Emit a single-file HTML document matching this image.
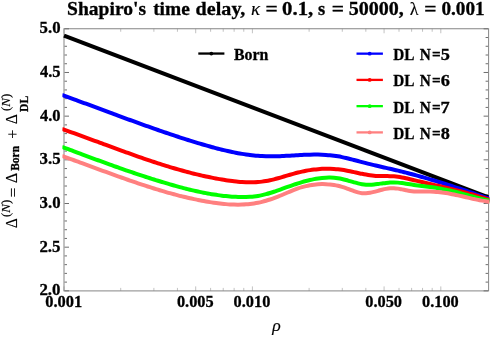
<!DOCTYPE html><html><head><meta charset="utf-8"><style>html,body{margin:0;padding:0;background:#fff}svg{display:block;will-change:transform}text{font-family:"Liberation Serif",serif;fill:#000}</style></head><body>
<svg width="491" height="338" viewBox="0 0 491 338">
<rect width="491" height="338" fill="#fff"/>
<defs><clipPath id="c"><rect x="62.40" y="28.75" width="427.00" height="262.15"/></clipPath></defs>
<g stroke="#858585" stroke-width="1" fill="none">
<rect x="64.00" y="28.75" width="424.60" height="262.15"/>
<path stroke="#6e6e6e" d="M64.50 290.85h4.50M488.10 290.85h-4.50M64.50 282.12h2.50M488.10 282.12h-2.50M64.50 273.38h2.50M488.10 273.38h-2.50M64.50 264.65h2.50M488.10 264.65h-2.50M64.50 255.91h2.50M488.10 255.91h-2.50M64.50 247.18h4.50M488.10 247.18h-4.50M64.50 238.44h2.50M488.10 238.44h-2.50M64.50 229.71h2.50M488.10 229.71h-2.50M64.50 220.97h2.50M488.10 220.97h-2.50M64.50 212.24h2.50M488.10 212.24h-2.50M64.50 203.50h4.50M488.10 203.50h-4.50M64.50 194.77h2.50M488.10 194.77h-2.50M64.50 186.03h2.50M488.10 186.03h-2.50M64.50 177.30h2.50M488.10 177.30h-2.50M64.50 168.56h2.50M488.10 168.56h-2.50M64.50 159.83h4.50M488.10 159.83h-4.50M64.50 151.09h2.50M488.10 151.09h-2.50M64.50 142.35h2.50M488.10 142.35h-2.50M64.50 133.62h2.50M488.10 133.62h-2.50M64.50 124.89h2.50M488.10 124.89h-2.50M64.50 116.15h4.50M488.10 116.15h-4.50M64.50 107.42h2.50M488.10 107.42h-2.50M64.50 98.68h2.50M488.10 98.68h-2.50M64.50 89.95h2.50M488.10 89.95h-2.50M64.50 81.21h2.50M488.10 81.21h-2.50M64.50 72.48h4.50M488.10 72.48h-4.50M64.50 63.74h2.50M488.10 63.74h-2.50M64.50 55.00h2.50M488.10 55.00h-2.50M64.50 46.27h2.50M488.10 46.27h-2.50M64.50 37.53h2.50M488.10 37.53h-2.50M64.50 28.80h4.50M488.10 28.80h-4.50"/>
<path stroke-width="0.5" d="M64.00 290.90v-4.50M64.00 28.75v4.50M120.71 290.90v-3.00M120.71 28.75v3.00M153.89 290.90v-3.00M153.89 28.75v3.00M177.43 290.90v-3.00M177.43 28.75v3.00M195.69 290.90v-4.50M195.69 28.75v4.50M210.60 290.90v-3.00M210.60 28.75v3.00M223.22 290.90v-3.00M223.22 28.75v3.00M234.14 290.90v-3.00M234.14 28.75v3.00M243.78 290.90v-3.00M243.78 28.75v3.00M252.40 290.90v-4.50M252.40 28.75v4.50M309.11 290.90v-3.00M309.11 28.75v3.00M342.29 290.90v-3.00M342.29 28.75v3.00M365.83 290.90v-3.00M365.83 28.75v3.00M384.09 290.90v-4.50M384.09 28.75v4.50M399.00 290.90v-3.00M399.00 28.75v3.00M411.62 290.90v-3.00M411.62 28.75v3.00M422.54 290.90v-3.00M422.54 28.75v3.00M432.18 290.90v-3.00M432.18 28.75v3.00M440.80 290.90v-4.50M440.80 28.75v4.50"/>
</g>
<g fill="none" stroke-width="4.00" stroke-linejoin="round" clip-path="url(#c)">
<path d="M64.00 35.60L488.50 197.35" stroke="#000000"/>
<path d="M62.00 95.00C62.67 95.24 64.67 95.95 66.00 96.44C67.33 96.92 68.67 97.40 70.00 97.88C71.33 98.37 72.67 98.85 74.00 99.34C75.33 99.82 76.67 100.31 78.00 100.80C79.33 101.29 80.67 101.78 82.00 102.27C83.33 102.76 84.67 103.25 86.00 103.74C87.33 104.23 88.67 104.73 90.00 105.22C91.33 105.71 92.67 106.21 94.00 106.70C95.33 107.19 96.67 107.69 98.00 108.18C99.33 108.68 100.67 109.17 102.00 109.67C103.33 110.16 104.67 110.66 106.00 111.15C107.33 111.64 108.67 112.14 110.00 112.63C111.33 113.13 112.67 113.62 114.00 114.11C115.33 114.61 116.67 115.10 118.00 115.59C119.33 116.08 120.67 116.58 122.00 117.07C123.33 117.56 124.67 118.05 126.00 118.54C127.33 119.03 128.67 119.51 130.00 120.00C131.33 120.49 132.67 120.97 134.00 121.46C135.33 121.94 136.67 122.43 138.00 122.91C139.33 123.39 140.67 123.87 142.00 124.35C143.33 124.83 144.67 125.30 146.00 125.78C147.33 126.25 148.67 126.73 150.00 127.20C151.33 127.67 152.67 128.14 154.00 128.61C155.33 129.08 156.67 129.54 158.00 130.00C159.33 130.47 160.67 130.93 162.00 131.39C163.33 131.85 164.67 132.30 166.00 132.76C167.33 133.21 168.67 133.66 170.00 134.11C171.33 134.56 172.67 135.00 174.00 135.44C175.33 135.89 176.67 136.32 178.00 136.76C179.33 137.20 180.67 137.63 182.00 138.06C183.33 138.49 184.67 138.92 186.00 139.34C187.33 139.76 188.67 140.18 190.00 140.60C191.33 141.02 192.67 141.43 194.00 141.84C195.33 142.25 196.67 142.65 198.00 143.05C199.33 143.45 200.67 143.85 202.00 144.25C203.33 144.64 204.67 145.03 206.00 145.41C207.33 145.79 208.67 146.17 210.00 146.54C211.33 146.92 212.67 147.28 214.00 147.64C215.33 148.00 216.67 148.35 218.00 148.70C219.33 149.04 220.67 149.38 222.00 149.71C223.33 150.03 224.67 150.35 226.00 150.66C227.33 150.97 228.67 151.28 230.00 151.57C231.33 151.86 232.67 152.14 234.00 152.40C235.33 152.67 236.67 152.93 238.00 153.18C239.33 153.42 240.67 153.66 242.00 153.88C243.33 154.10 244.67 154.31 246.00 154.50C247.33 154.69 248.67 154.88 250.00 155.04C251.33 155.21 252.67 155.36 254.00 155.50C255.33 155.63 256.67 155.75 258.00 155.86C259.33 155.96 260.67 156.05 262.00 156.12C263.33 156.20 264.67 156.25 266.00 156.29C267.33 156.33 268.67 156.34 270.00 156.35C271.33 156.36 272.67 156.35 274.00 156.33C275.33 156.30 276.67 156.27 278.00 156.23C279.33 156.18 280.67 156.13 282.00 156.07C283.33 156.01 284.67 155.94 286.00 155.87C287.33 155.80 288.67 155.72 290.00 155.65C291.33 155.57 292.67 155.49 294.00 155.41C295.33 155.33 296.67 155.25 298.00 155.18C299.33 155.10 300.67 155.03 302.00 154.96C303.33 154.89 304.67 154.83 306.00 154.78C307.33 154.72 308.67 154.68 310.00 154.64C311.33 154.61 312.67 154.58 314.00 154.57C315.33 154.56 316.67 154.56 318.00 154.58C319.33 154.60 320.67 154.63 322.00 154.69C323.33 154.74 324.67 154.81 326.00 154.90C327.33 154.99 328.67 155.10 330.00 155.24C331.33 155.37 332.67 155.53 334.00 155.71C335.33 155.90 336.67 156.11 338.00 156.34C339.33 156.58 340.67 156.84 342.00 157.11C343.33 157.39 344.67 157.68 346.00 157.99C347.33 158.30 348.67 158.62 350.00 158.96C351.33 159.29 352.67 159.63 354.00 159.98C355.33 160.33 356.67 160.69 358.00 161.04C359.33 161.39 360.67 161.75 362.00 162.10C363.33 162.45 364.67 162.80 366.00 163.15C367.33 163.49 368.67 163.82 370.00 164.15C371.33 164.47 372.67 164.79 374.00 165.11C375.33 165.43 376.67 165.74 378.00 166.05C379.33 166.36 380.67 166.66 382.00 166.97C383.33 167.27 384.67 167.58 386.00 167.88C387.33 168.19 388.67 168.49 390.00 168.80C391.33 169.10 392.67 169.41 394.00 169.72C395.33 170.04 396.67 170.35 398.00 170.67C399.33 170.99 400.67 171.32 402.00 171.65C403.33 171.98 404.67 172.32 406.00 172.66C407.33 173.00 408.67 173.35 410.00 173.70C411.33 174.05 412.67 174.41 414.00 174.77C415.33 175.13 416.67 175.49 418.00 175.86C419.33 176.23 420.67 176.61 422.00 176.99C423.33 177.37 424.67 177.75 426.00 178.14C427.33 178.52 428.67 178.91 430.00 179.31C431.33 179.70 432.67 180.10 434.00 180.50C435.33 180.90 436.67 181.31 438.00 181.72C439.33 182.13 440.67 182.54 442.00 182.96C443.33 183.38 444.67 183.79 446.00 184.22C447.33 184.64 448.67 185.07 450.00 185.50C451.33 185.92 452.67 186.36 454.00 186.79C455.33 187.22 456.67 187.66 458.00 188.10C459.33 188.54 460.67 188.99 462.00 189.43C463.33 189.87 464.67 190.32 466.00 190.77C467.33 191.22 468.67 191.67 470.00 192.13C471.33 192.58 472.67 193.04 474.00 193.50C475.33 193.95 476.67 194.41 478.00 194.87C479.33 195.34 480.67 195.80 482.00 196.26C483.33 196.73 484.67 197.20 486.00 197.66C487.33 198.13 489.23 198.80 490.00 199.07C490.77 199.34 490.50 199.25 490.60 199.28" stroke="#0000ff"/>
<path d="M62.00 128.93C62.67 129.16 64.67 129.86 66.00 130.33C67.33 130.81 68.67 131.28 70.00 131.76C71.33 132.23 72.67 132.71 74.00 133.19C75.33 133.67 76.67 134.16 78.00 134.64C79.33 135.13 80.67 135.61 82.00 136.10C83.33 136.59 84.67 137.08 86.00 137.57C87.33 138.06 88.67 138.55 90.00 139.04C91.33 139.53 92.67 140.02 94.00 140.51C95.33 141.01 96.67 141.50 98.00 141.99C99.33 142.49 100.67 142.98 102.00 143.47C103.33 143.97 104.67 144.46 106.00 144.95C107.33 145.44 108.67 145.94 110.00 146.43C111.33 146.92 112.67 147.41 114.00 147.90C115.33 148.39 116.67 148.88 118.00 149.37C119.33 149.85 120.67 150.34 122.00 150.82C123.33 151.31 124.67 151.79 126.00 152.27C127.33 152.75 128.67 153.23 130.00 153.71C131.33 154.18 132.67 154.66 134.00 155.13C135.33 155.60 136.67 156.07 138.00 156.54C139.33 157.01 140.67 157.47 142.00 157.93C143.33 158.39 144.67 158.85 146.00 159.30C147.33 159.76 148.67 160.21 150.00 160.66C151.33 161.10 152.67 161.55 154.00 161.99C155.33 162.43 156.67 162.86 158.00 163.30C159.33 163.73 160.67 164.15 162.00 164.58C163.33 165.00 164.67 165.42 166.00 165.83C167.33 166.24 168.67 166.65 170.00 167.06C171.33 167.46 172.67 167.86 174.00 168.25C175.33 168.64 176.67 169.03 178.00 169.41C179.33 169.79 180.67 170.17 182.00 170.54C183.33 170.91 184.67 171.27 186.00 171.63C187.33 171.99 188.67 172.34 190.00 172.68C191.33 173.03 192.67 173.37 194.00 173.70C195.33 174.03 196.67 174.35 198.00 174.67C199.33 174.99 200.67 175.30 202.00 175.60C203.33 175.90 204.67 176.20 206.00 176.48C207.33 176.77 208.67 177.05 210.00 177.32C211.33 177.59 212.67 177.86 214.00 178.11C215.33 178.36 216.67 178.61 218.00 178.85C219.33 179.09 220.67 179.32 222.00 179.54C223.33 179.76 224.67 179.97 226.00 180.17C227.33 180.37 228.67 180.56 230.00 180.74C231.33 180.92 232.67 181.10 234.00 181.25C235.33 181.40 236.67 181.55 238.00 181.67C239.33 181.80 240.67 181.91 242.00 181.99C243.33 182.08 244.67 182.15 246.00 182.20C247.33 182.25 248.67 182.28 250.00 182.29C251.33 182.29 252.67 182.27 254.00 182.22C255.33 182.18 256.67 182.11 258.00 182.01C259.33 181.91 260.67 181.78 262.00 181.62C263.33 181.46 264.67 181.27 266.00 181.05C267.33 180.82 268.67 180.56 270.00 180.28C271.33 179.99 272.67 179.67 274.00 179.34C275.33 179.00 276.67 178.64 278.00 178.27C279.33 177.90 280.67 177.51 282.00 177.12C283.33 176.73 284.67 176.32 286.00 175.93C287.33 175.53 288.67 175.13 290.00 174.74C291.33 174.35 292.67 173.96 294.00 173.60C295.33 173.23 296.67 172.88 298.00 172.55C299.33 172.21 300.67 171.90 302.00 171.61C303.33 171.32 304.67 171.05 306.00 170.80C307.33 170.55 308.67 170.32 310.00 170.11C311.33 169.90 312.67 169.72 314.00 169.56C315.33 169.40 316.67 169.26 318.00 169.14C319.33 169.03 320.67 168.94 322.00 168.87C323.33 168.81 324.67 168.77 326.00 168.75C327.33 168.74 328.67 168.75 330.00 168.78C331.33 168.82 332.67 168.88 334.00 168.97C335.33 169.06 336.67 169.18 338.00 169.33C339.33 169.48 340.67 169.65 342.00 169.85C343.33 170.05 344.67 170.28 346.00 170.52C347.33 170.77 348.67 171.03 350.00 171.30C351.33 171.57 352.67 171.86 354.00 172.14C355.33 172.43 356.67 172.72 358.00 173.00C359.33 173.28 360.67 173.57 362.00 173.83C363.33 174.10 364.67 174.36 366.00 174.59C367.33 174.82 368.67 175.05 370.00 175.24C371.33 175.42 372.67 175.59 374.00 175.72C375.33 175.85 376.67 175.94 378.00 176.01C379.33 176.07 380.67 176.08 382.00 176.10C383.33 176.12 384.67 176.10 386.00 176.11C387.33 176.12 388.67 176.11 390.00 176.15C391.33 176.18 392.67 176.22 394.00 176.32C395.33 176.42 396.67 176.56 398.00 176.74C399.33 176.93 400.67 177.17 402.00 177.42C403.33 177.68 404.67 177.98 406.00 178.28C407.33 178.58 408.67 178.91 410.00 179.23C411.33 179.54 412.67 179.87 414.00 180.19C415.33 180.50 416.67 180.82 418.00 181.13C419.33 181.45 420.67 181.76 422.00 182.07C423.33 182.38 424.67 182.69 426.00 183.00C427.33 183.31 428.67 183.62 430.00 183.93C431.33 184.24 432.67 184.55 434.00 184.86C435.33 185.17 436.67 185.49 438.00 185.80C439.33 186.11 440.67 186.43 442.00 186.74C443.33 187.06 444.67 187.38 446.00 187.70C447.33 188.02 448.67 188.34 450.00 188.67C451.33 188.99 452.67 189.32 454.00 189.65C455.33 189.99 456.67 190.32 458.00 190.66C459.33 191.00 460.67 191.35 462.00 191.70C463.33 192.05 464.67 192.40 466.00 192.76C467.33 193.12 468.67 193.49 470.00 193.86C471.33 194.23 472.67 194.60 474.00 194.99C475.33 195.37 476.67 195.76 478.00 196.16C479.33 196.55 480.67 196.96 482.00 197.37C483.33 197.78 484.67 198.20 486.00 198.63C487.33 199.06 489.23 199.68 490.00 199.94C490.77 200.19 490.50 200.10 490.60 200.14" stroke="#ff0000"/>
<path d="M62.00 146.87C62.67 147.12 64.67 147.87 66.00 148.37C67.33 148.86 68.67 149.36 70.00 149.86C71.33 150.36 72.67 150.86 74.00 151.35C75.33 151.85 76.67 152.35 78.00 152.85C79.33 153.34 80.67 153.84 82.00 154.34C83.33 154.83 84.67 155.33 86.00 155.82C87.33 156.32 88.67 156.81 90.00 157.31C91.33 157.80 92.67 158.29 94.00 158.78C95.33 159.27 96.67 159.76 98.00 160.25C99.33 160.74 100.67 161.23 102.00 161.72C103.33 162.20 104.67 162.69 106.00 163.17C107.33 163.65 108.67 164.13 110.00 164.61C111.33 165.09 112.67 165.57 114.00 166.04C115.33 166.52 116.67 166.99 118.00 167.47C119.33 167.94 120.67 168.41 122.00 168.87C123.33 169.34 124.67 169.80 126.00 170.27C127.33 170.73 128.67 171.19 130.00 171.64C131.33 172.10 132.67 172.56 134.00 173.01C135.33 173.46 136.67 173.91 138.00 174.35C139.33 174.80 140.67 175.24 142.00 175.68C143.33 176.12 144.67 176.55 146.00 176.98C147.33 177.42 148.67 177.84 150.00 178.27C151.33 178.69 152.67 179.12 154.00 179.53C155.33 179.95 156.67 180.37 158.00 180.78C159.33 181.19 160.67 181.59 162.00 181.99C163.33 182.40 164.67 182.79 166.00 183.19C167.33 183.58 168.67 183.97 170.00 184.35C171.33 184.74 172.67 185.12 174.00 185.49C175.33 185.87 176.67 186.24 178.00 186.60C179.33 186.96 180.67 187.32 182.00 187.67C183.33 188.03 184.67 188.37 186.00 188.71C187.33 189.05 188.67 189.38 190.00 189.70C191.33 190.02 192.67 190.34 194.00 190.64C195.33 190.95 196.67 191.25 198.00 191.54C199.33 191.83 200.67 192.11 202.00 192.38C203.33 192.65 204.67 192.91 206.00 193.16C207.33 193.41 208.67 193.65 210.00 193.88C211.33 194.11 212.67 194.33 214.00 194.54C215.33 194.74 216.67 194.94 218.00 195.12C219.33 195.31 220.67 195.48 222.00 195.64C223.33 195.80 224.67 195.94 226.00 196.08C227.33 196.21 228.67 196.33 230.00 196.43C231.33 196.54 232.67 196.63 234.00 196.71C235.33 196.78 236.67 196.84 238.00 196.89C239.33 196.94 240.67 196.97 242.00 196.98C243.33 196.99 244.67 196.99 246.00 196.96C247.33 196.93 248.67 196.88 250.00 196.80C251.33 196.71 252.67 196.61 254.00 196.46C255.33 196.31 256.67 196.14 258.00 195.92C259.33 195.70 260.67 195.44 262.00 195.15C263.33 194.86 264.67 194.53 266.00 194.17C267.33 193.82 268.67 193.43 270.00 193.02C271.33 192.62 272.67 192.18 274.00 191.74C275.33 191.30 276.67 190.83 278.00 190.37C279.33 189.90 280.67 189.42 282.00 188.94C283.33 188.46 284.67 187.97 286.00 187.49C287.33 187.01 288.67 186.54 290.00 186.07C291.33 185.60 292.67 185.13 294.00 184.68C295.33 184.23 296.67 183.79 298.00 183.36C299.33 182.93 300.67 182.52 302.00 182.12C303.33 181.72 304.67 181.34 306.00 180.98C307.33 180.63 308.67 180.29 310.00 179.98C311.33 179.66 312.67 179.37 314.00 179.12C315.33 178.86 316.67 178.62 318.00 178.42C319.33 178.22 320.67 178.05 322.00 177.92C323.33 177.79 324.67 177.69 326.00 177.63C327.33 177.57 328.67 177.55 330.00 177.57C331.33 177.60 332.67 177.66 334.00 177.77C335.33 177.88 336.67 178.04 338.00 178.24C339.33 178.45 340.67 178.71 342.00 179.01C343.33 179.31 344.67 179.66 346.00 180.02C347.33 180.38 348.67 180.78 350.00 181.16C351.33 181.55 352.67 181.95 354.00 182.32C355.33 182.68 356.67 183.05 358.00 183.36C359.33 183.67 360.67 183.97 362.00 184.18C363.33 184.40 364.67 184.57 366.00 184.66C367.33 184.75 368.67 184.75 370.00 184.71C371.33 184.68 372.67 184.56 374.00 184.44C375.33 184.31 376.67 184.13 378.00 183.96C379.33 183.79 380.67 183.59 382.00 183.41C383.33 183.24 384.67 183.05 386.00 182.91C387.33 182.77 388.67 182.63 390.00 182.55C391.33 182.48 392.67 182.43 394.00 182.44C395.33 182.45 396.67 182.53 398.00 182.63C399.33 182.74 400.67 182.90 402.00 183.07C403.33 183.24 404.67 183.45 406.00 183.66C407.33 183.86 408.67 184.09 410.00 184.29C411.33 184.50 412.67 184.70 414.00 184.90C415.33 185.09 416.67 185.27 418.00 185.45C419.33 185.63 420.67 185.80 422.00 185.97C423.33 186.14 424.67 186.31 426.00 186.48C427.33 186.65 428.67 186.82 430.00 187.00C431.33 187.18 432.67 187.36 434.00 187.56C435.33 187.75 436.67 187.95 438.00 188.17C439.33 188.38 440.67 188.60 442.00 188.85C443.33 189.09 444.67 189.35 446.00 189.63C447.33 189.90 448.67 190.20 450.00 190.51C451.33 190.82 452.67 191.14 454.00 191.47C455.33 191.81 456.67 192.16 458.00 192.51C459.33 192.86 460.67 193.22 462.00 193.59C463.33 193.95 464.67 194.33 466.00 194.70C467.33 195.07 468.67 195.44 470.00 195.81C471.33 196.18 472.67 196.55 474.00 196.91C475.33 197.27 476.67 197.63 478.00 197.98C479.33 198.32 480.67 198.67 482.00 198.99C483.33 199.32 484.67 199.63 486.00 199.93C487.33 200.23 489.23 200.62 490.00 200.78C490.77 200.94 490.50 200.88 490.60 200.90" stroke="#00ff00"/>
<path d="M62.00 155.93C62.67 156.16 64.67 156.88 66.00 157.36C67.33 157.83 68.67 158.31 70.00 158.80C71.33 159.28 72.67 159.76 74.00 160.25C75.33 160.73 76.67 161.22 78.00 161.71C79.33 162.19 80.67 162.68 82.00 163.17C83.33 163.66 84.67 164.15 86.00 164.64C87.33 165.13 88.67 165.62 90.00 166.11C91.33 166.60 92.67 167.10 94.00 167.59C95.33 168.08 96.67 168.57 98.00 169.06C99.33 169.55 100.67 170.04 102.00 170.53C103.33 171.01 104.67 171.50 106.00 171.99C107.33 172.48 108.67 172.96 110.00 173.45C111.33 173.93 112.67 174.41 114.00 174.89C115.33 175.37 116.67 175.85 118.00 176.33C119.33 176.81 120.67 177.28 122.00 177.75C123.33 178.23 124.67 178.70 126.00 179.16C127.33 179.63 128.67 180.10 130.00 180.56C131.33 181.02 132.67 181.48 134.00 181.93C135.33 182.39 136.67 182.84 138.00 183.29C139.33 183.74 140.67 184.18 142.00 184.62C143.33 185.06 144.67 185.50 146.00 185.93C147.33 186.36 148.67 186.79 150.00 187.21C151.33 187.64 152.67 188.06 154.00 188.47C155.33 188.88 156.67 189.29 158.00 189.70C159.33 190.10 160.67 190.50 162.00 190.89C163.33 191.28 164.67 191.67 166.00 192.05C167.33 192.44 168.67 192.81 170.00 193.18C171.33 193.55 172.67 193.91 174.00 194.27C175.33 194.63 176.67 194.98 178.00 195.32C179.33 195.67 180.67 196.00 182.00 196.33C183.33 196.66 184.67 196.99 186.00 197.30C187.33 197.62 188.67 197.92 190.00 198.23C191.33 198.53 192.67 198.82 194.00 199.10C195.33 199.39 196.67 199.66 198.00 199.93C199.33 200.20 200.67 200.46 202.00 200.71C203.33 200.96 204.67 201.20 206.00 201.44C207.33 201.67 208.67 201.90 210.00 202.11C211.33 202.33 212.67 202.53 214.00 202.73C215.33 202.92 216.67 203.11 218.00 203.28C219.33 203.45 220.67 203.61 222.00 203.75C223.33 203.89 224.67 204.02 226.00 204.13C227.33 204.24 228.67 204.34 230.00 204.42C231.33 204.49 232.67 204.55 234.00 204.59C235.33 204.63 236.67 204.65 238.00 204.65C239.33 204.64 240.67 204.62 242.00 204.57C243.33 204.52 244.67 204.45 246.00 204.35C247.33 204.25 248.67 204.13 250.00 203.98C251.33 203.83 252.67 203.65 254.00 203.44C255.33 203.23 256.67 203.00 258.00 202.73C259.33 202.46 260.67 202.16 262.00 201.83C263.33 201.50 264.67 201.14 266.00 200.76C267.33 200.37 268.67 199.96 270.00 199.52C271.33 199.08 272.67 198.62 274.00 198.13C275.33 197.65 276.67 197.14 278.00 196.61C279.33 196.08 280.67 195.53 282.00 194.97C283.33 194.41 284.67 193.82 286.00 193.25C287.33 192.68 288.67 192.10 290.00 191.54C291.33 190.98 292.67 190.42 294.00 189.91C295.33 189.39 296.67 188.89 298.00 188.44C299.33 187.98 300.67 187.56 302.00 187.17C303.33 186.78 304.67 186.43 306.00 186.12C307.33 185.80 308.67 185.52 310.00 185.28C311.33 185.04 312.67 184.83 314.00 184.66C315.33 184.49 316.67 184.36 318.00 184.27C319.33 184.18 320.67 184.12 322.00 184.10C323.33 184.09 324.67 184.11 326.00 184.17C327.33 184.23 328.67 184.33 330.00 184.48C331.33 184.62 332.67 184.80 334.00 185.02C335.33 185.24 336.67 185.50 338.00 185.81C339.33 186.11 340.67 186.46 342.00 186.85C343.33 187.23 344.67 187.67 346.00 188.14C347.33 188.60 348.67 189.14 350.00 189.64C351.33 190.14 352.67 190.69 354.00 191.15C355.33 191.61 356.67 192.07 358.00 192.41C359.33 192.74 360.67 193.03 362.00 193.17C363.33 193.30 364.67 193.31 366.00 193.24C367.33 193.17 368.67 192.98 370.00 192.75C371.33 192.53 372.67 192.21 374.00 191.88C375.33 191.56 376.67 191.18 378.00 190.82C379.33 190.46 380.67 190.08 382.00 189.75C383.33 189.42 384.67 189.09 386.00 188.85C387.33 188.60 388.67 188.38 390.00 188.28C391.33 188.17 392.67 188.15 394.00 188.21C395.33 188.27 396.67 188.45 398.00 188.64C399.33 188.84 400.67 189.13 402.00 189.39C403.33 189.66 404.67 189.97 406.00 190.24C407.33 190.50 408.67 190.77 410.00 190.96C411.33 191.15 412.67 191.29 414.00 191.38C415.33 191.47 416.67 191.49 418.00 191.51C419.33 191.53 420.67 191.50 422.00 191.49C423.33 191.49 424.67 191.46 426.00 191.46C427.33 191.47 428.67 191.49 430.00 191.53C431.33 191.58 432.67 191.64 434.00 191.72C435.33 191.81 436.67 191.91 438.00 192.04C439.33 192.16 440.67 192.31 442.00 192.48C443.33 192.65 444.67 192.84 446.00 193.05C447.33 193.26 448.67 193.49 450.00 193.74C451.33 193.99 452.67 194.25 454.00 194.53C455.33 194.80 456.67 195.09 458.00 195.39C459.33 195.68 460.67 195.99 462.00 196.29C463.33 196.60 464.67 196.91 466.00 197.22C467.33 197.53 468.67 197.84 470.00 198.14C471.33 198.44 472.67 198.75 474.00 199.03C475.33 199.32 476.67 199.60 478.00 199.87C479.33 200.13 480.67 200.38 482.00 200.62C483.33 200.85 484.67 201.07 486.00 201.26C487.33 201.45 489.23 201.67 490.00 201.76C490.77 201.86 490.50 201.82 490.60 201.83" stroke="#ff8080"/>
</g>
<text transform="translate(39.44,295.25) scale(0.9697,1)" font-size="17.4" font-weight="bold" font-style="normal" stroke="#000" stroke-width="0.3">2.0</text>
<text transform="translate(39.44,251.58) scale(0.9697,1)" font-size="17.4" font-weight="bold" font-style="normal" stroke="#000" stroke-width="0.3">2.5</text>
<text transform="translate(39.57,207.90) scale(0.9639,1)" font-size="17.4" font-weight="bold" font-style="normal" stroke="#000" stroke-width="0.3">3.0</text>
<text transform="translate(39.57,164.23) scale(0.9639,1)" font-size="17.4" font-weight="bold" font-style="normal" stroke="#000" stroke-width="0.3">3.5</text>
<text transform="translate(39.93,120.55) scale(0.9467,1)" font-size="17.4" font-weight="bold" font-style="normal" stroke="#000" stroke-width="0.3">4.0</text>
<text transform="translate(39.93,76.88) scale(0.9467,1)" font-size="17.4" font-weight="bold" font-style="normal" stroke="#000" stroke-width="0.3">4.5</text>
<text transform="translate(39.57,33.20) scale(0.9639,1)" font-size="17.4" font-weight="bold" font-style="normal" stroke="#000" stroke-width="0.3">5.0</text>
<text transform="translate(45.22,307.35) scale(0.9676,1)" font-size="17.0" font-weight="bold" font-style="normal" stroke="#000" stroke-width="0.3">0.001</text>
<text transform="translate(176.91,307.35) scale(0.9611,1)" font-size="17.0" font-weight="bold" font-style="normal" stroke="#000" stroke-width="0.3">0.005</text>
<text transform="translate(233.62,307.35) scale(0.9611,1)" font-size="17.0" font-weight="bold" font-style="normal" stroke="#000" stroke-width="0.3">0.010</text>
<text transform="translate(365.31,307.35) scale(0.9611,1)" font-size="17.0" font-weight="bold" font-style="normal" stroke="#000" stroke-width="0.3">0.050</text>
<text transform="translate(422.02,307.35) scale(0.9611,1)" font-size="17.0" font-weight="bold" font-style="normal" stroke="#000" stroke-width="0.3">0.100</text>
<text transform="translate(67.08,15.00) scale(0.9978,1)" font-size="19.6" font-weight="bold" font-style="normal" stroke="#000" stroke-width="0.3">Shapiro's</text>
<text transform="translate(153.13,15.00) scale(0.9918,1)" font-size="19.6" font-weight="bold" font-style="normal" stroke="#000" stroke-width="0.3">time</text>
<text transform="translate(195.61,15.00) scale(1.0265,1)" font-size="19.6" font-weight="bold" font-style="normal" stroke="#000" stroke-width="0.3">delay,</text>
<text transform="translate(250.95,15.00) scale(0.9667,1)" font-size="19.6" font-weight="normal" font-style="italic" stroke="#000" stroke-width="0.15">κ</text>
<text transform="translate(265.49,15.00) scale(1.0987,1)" font-size="19.6" font-weight="bold" font-style="normal" stroke="#000" stroke-width="0.3">=</text>
<text transform="translate(282.09,15.00) scale(1.0596,1)" font-size="19.6" font-weight="bold" font-style="normal" stroke="#000" stroke-width="0.3">0.1,</text>
<text transform="translate(317.88,15.00) scale(0.9481,1)" font-size="19.6" font-weight="bold" font-style="normal" stroke="#000" stroke-width="0.3">s</text>
<text transform="translate(331.78,15.00) scale(1.1000,1)" font-size="19.6" font-weight="bold" font-style="normal" stroke="#000" stroke-width="0.3">=</text>
<text transform="translate(348.71,15.00) scale(1.0223,1)" font-size="19.6" font-weight="bold" font-style="normal" stroke="#000" stroke-width="0.3">50000,</text>
<text transform="translate(409.75,15.00) scale(0.9200,1)" font-size="19.6" font-weight="normal" font-style="normal" stroke="#000" stroke-width="0.15">λ</text>
<text transform="translate(424.13,15.00) scale(1.1000,1)" font-size="19.6" font-weight="bold" font-style="normal" stroke="#000" stroke-width="0.3">=</text>
<text transform="translate(441.44,15.00) scale(0.9806,1)" font-size="19.6" font-weight="bold" font-style="normal" stroke="#000" stroke-width="0.3">0.001</text>
<text transform="translate(272.17,331.40) scale(1.0424,1)" font-size="17" font-weight="normal" font-style="italic" stroke="#000" stroke-width="0.15">ρ</text>
<text transform="translate(234.03,60.10) scale(0.9538,1)" font-size="16.6" font-weight="bold" font-style="normal" stroke="#000" stroke-width="0.3">Born</text>
<text transform="translate(393.24,60.10) scale(0.9200,1)" font-size="16.6" font-weight="bold" font-style="normal" stroke="#000" stroke-width="0.3">DL</text>
<text transform="translate(419.68,60.10) scale(0.9200,1)" font-size="16.6" font-weight="bold" font-style="normal" stroke="#000" stroke-width="0.3">N</text>
<text transform="translate(431.99,60.10) scale(0.9200,1)" font-size="16.6" font-weight="bold" font-style="normal" stroke="#000" stroke-width="0.3">=</text>
<text transform="translate(440.79,60.10) scale(1.1000,1)" font-size="16.6" font-weight="bold" font-style="normal" stroke="#000" stroke-width="0.3">5</text>
<text transform="translate(393.24,86.35) scale(0.9200,1)" font-size="16.6" font-weight="bold" font-style="normal" stroke="#000" stroke-width="0.3">DL</text>
<text transform="translate(419.68,86.35) scale(0.9200,1)" font-size="16.6" font-weight="bold" font-style="normal" stroke="#000" stroke-width="0.3">N</text>
<text transform="translate(431.99,86.35) scale(0.9200,1)" font-size="16.6" font-weight="bold" font-style="normal" stroke="#000" stroke-width="0.3">=</text>
<text transform="translate(440.79,86.35) scale(1.1000,1)" font-size="16.6" font-weight="bold" font-style="normal" stroke="#000" stroke-width="0.3">6</text>
<text transform="translate(393.24,112.60) scale(0.9200,1)" font-size="16.6" font-weight="bold" font-style="normal" stroke="#000" stroke-width="0.3">DL</text>
<text transform="translate(419.68,112.60) scale(0.9200,1)" font-size="16.6" font-weight="bold" font-style="normal" stroke="#000" stroke-width="0.3">N</text>
<text transform="translate(431.99,112.60) scale(0.9200,1)" font-size="16.6" font-weight="bold" font-style="normal" stroke="#000" stroke-width="0.3">=</text>
<text transform="translate(440.59,112.60) scale(1.1000,1)" font-size="16.6" font-weight="bold" font-style="normal" stroke="#000" stroke-width="0.3">7</text>
<text transform="translate(393.24,138.85) scale(0.9200,1)" font-size="16.6" font-weight="bold" font-style="normal" stroke="#000" stroke-width="0.3">DL</text>
<text transform="translate(419.68,138.85) scale(0.9200,1)" font-size="16.6" font-weight="bold" font-style="normal" stroke="#000" stroke-width="0.3">N</text>
<text transform="translate(431.99,138.85) scale(0.9200,1)" font-size="16.6" font-weight="bold" font-style="normal" stroke="#000" stroke-width="0.3">=</text>
<text transform="translate(440.86,138.85) scale(1.1000,1)" font-size="16.6" font-weight="bold" font-style="normal" stroke="#000" stroke-width="0.3">8</text>
<g transform="translate(17.0,228) rotate(-90)">
<text transform="translate(0.08,0.00) scale(0.9387,1)" font-size="16.3" font-weight="normal" font-style="normal" stroke="#000" stroke-width="0.15">Δ</text>
<text transform="translate(10.93,-7.10) scale(1.0457,1)" font-size="12.6" font-weight="normal" font-style="italic" stroke="#000" stroke-width="0.15"><tspan font-style="normal">(</tspan>N<tspan font-style="normal">)</tspan></text>
<text transform="translate(30.86,1.50) scale(1.0492,1)" font-size="16" font-weight="normal" font-style="normal" stroke="#000" stroke-width="0.15">=</text>
<text transform="translate(44.96,0.00) scale(0.9707,1)" font-size="16.3" font-weight="normal" font-style="normal" stroke="#000" stroke-width="0.15">Δ</text>
<text transform="translate(57.20,1.80) scale(0.9247,1)" font-size="12.4" font-weight="bold" font-style="normal" stroke="#000" stroke-width="0.3">Born</text>
<text transform="translate(89.29,0.70) scale(1.0098,1)" font-size="16" font-weight="normal" font-style="normal" stroke="#000" stroke-width="0.15">+</text>
<text transform="translate(103.89,0.00) scale(0.9280,1)" font-size="16.3" font-weight="normal" font-style="normal" stroke="#000" stroke-width="0.15">Δ</text>
<text transform="translate(116.93,-7.10) scale(1.0457,1)" font-size="12.6" font-weight="normal" font-style="italic" stroke="#000" stroke-width="0.15"><tspan font-style="normal">(</tspan>N<tspan font-style="normal">)</tspan></text>
<text transform="translate(116.11,11.20) scale(0.9200,1)" font-size="12.6" font-weight="bold" font-style="normal" stroke="#000" stroke-width="0.3">DL</text>
</g>
<path d="M198.30 53.55H224.40" stroke="#000" stroke-width="2.3" fill="none"/>
<circle cx="211.35" cy="53.55" r="1.9" fill="#000"/>
<path d="M356.50 53.65H382.90" stroke="#0000ff" stroke-width="2.3" fill="none"/>
<circle cx="369.70" cy="53.65" r="1.9" fill="#0000ff"/>
<path d="M356.50 79.90H382.90" stroke="#ff0000" stroke-width="2.3" fill="none"/>
<circle cx="369.70" cy="79.90" r="1.9" fill="#ff0000"/>
<path d="M356.50 106.15H382.90" stroke="#00ff00" stroke-width="2.3" fill="none"/>
<circle cx="369.70" cy="106.15" r="1.9" fill="#00ff00"/>
<path d="M356.50 132.40H382.90" stroke="#ff8080" stroke-width="2.3" fill="none"/>
<circle cx="369.70" cy="132.40" r="1.9" fill="#ff8080"/>
</svg></body></html>
